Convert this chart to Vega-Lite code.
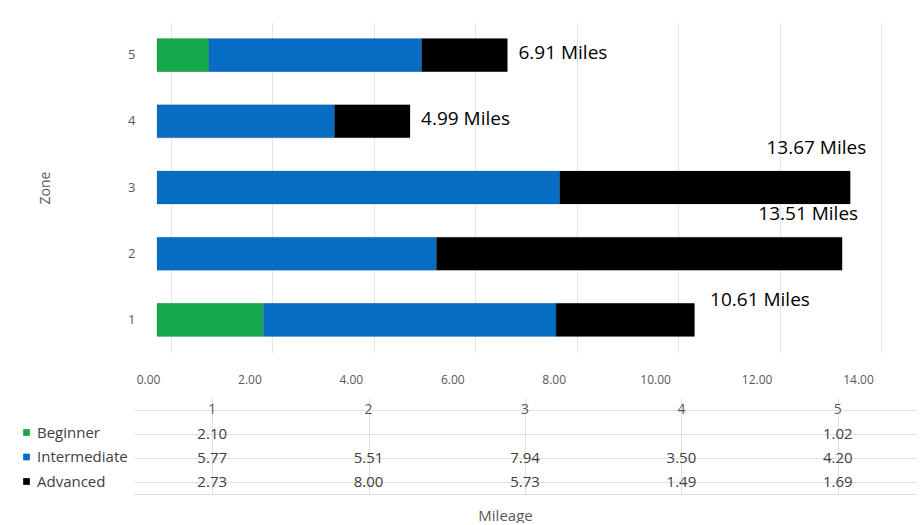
{
  "$schema": "https://vega.github.io/schema/vega-lite/v6.json",
  "padding": {"left": 19, "top": 22, "right": 5, "bottom": 0},
  "background": "white",
  "config": {
    "font": "Open Sans",
    "view": {"stroke": null},
    "axis": {"labelFont": "Open Sans", "titleFont": "Open Sans", "titleFontWeight": "normal"}
  },
  "datasets": {
    "miles": [
      {"zone": 1, "series": "Beginner", "level": 1, "value": 2.10},
      {"zone": 1, "series": "Intermediate", "level": 2, "value": 5.77},
      {"zone": 1, "series": "Advanced", "level": 3, "value": 2.73},
      {"zone": 2, "series": "Intermediate", "level": 2, "value": 5.51},
      {"zone": 2, "series": "Advanced", "level": 3, "value": 8.00},
      {"zone": 3, "series": "Intermediate", "level": 2, "value": 7.94},
      {"zone": 3, "series": "Advanced", "level": 3, "value": 5.73},
      {"zone": 4, "series": "Intermediate", "level": 2, "value": 3.50},
      {"zone": 4, "series": "Advanced", "level": 3, "value": 1.49},
      {"zone": 5, "series": "Beginner", "level": 1, "value": 1.02},
      {"zone": 5, "series": "Intermediate", "level": 2, "value": 4.20},
      {"zone": 5, "series": "Advanced", "level": 3, "value": 1.69}
    ],
    "totals": [
      {"zone": 1, "total": 10.61, "label": "10.61 Miles"},
      {"zone": 2, "total": 13.51, "label": "13.51 Miles"},
      {"zone": 3, "total": 13.67, "label": "13.67 Miles"},
      {"zone": 4, "total": 4.99, "label": "4.99 Miles"},
      {"zone": 5, "total": 6.91, "label": "6.91 Miles"}
    ]
  },
  "resolve": {"scale": {"x": "independent", "y": "independent", "color": "shared"}},
  "spacing": 13,
  "vconcat": [
    {
      "width": 710,
      "height": 331,
      "layer": [
        {
          "data": {"name": "miles"},
          "mark": {"type": "bar", "stroke": "#0000001f", "strokeWidth": 1},
          "encoding": {
            "y": {
              "field": "zone", "type": "ordinal", "sort": "descending",
              "scale": {"paddingInner": 0.5, "paddingOuter": 0.25},
              "axis": {"title": "Zone", "titleFontSize": 14, "titleColor": "#595959", "titlePadding": 75,
                       "labelFontSize": 13, "labelColor": "#595959", "labelPadding": 22,
                       "ticks": false, "domain": false, "labelAngle": 0}
            },
            "x": {
              "field": "value", "type": "quantitative", "stack": "zero",
              "scale": {"domain": [0, 14], "nice": false},
              "axis": {"title": null, "values": [0, 2, 4, 6, 8, 10, 12, 14], "format": ".2f",
                       "labelFontSize": 12, "labelColor": "#595959", "labelPadding": 21,
                       "ticks": false, "domain": false, "grid": true, "gridColor": "#e6e6e6",
                       "tickOffset": 14, "labelOffset": -23, "labelFlush": false}
            },
            "color": {
              "field": "series", "type": "nominal",
              "scale": {"domain": ["Beginner", "Intermediate", "Advanced"], "range": ["#17a84b", "#076cc4", "#000000"]},
              "legend": {"orient": "none", "legendX": -138, "legendY": 403, "title": null,
                         "symbolType": "square", "symbolSize": 45, "symbolStrokeWidth": 0,
                         "labelFontSize": 15, "labelColor": "#404040", "labelFont": "Open Sans",
                         "rowPadding": 8.5, "labelOffset": 3}
            },
            "order": {"field": "level", "type": "quantitative"}
          }
        },
        {
          "data": {"name": "totals"},
          "transform": [{"filter": "datum.total < 12 && datum.zone != 1"}],
          "mark": {"type": "text", "align": "left", "baseline": "middle", "dx": 11, "dy": -2, "fontSize": 19, "color": "#000000"},
          "encoding": {
            "y": {"field": "zone", "type": "ordinal", "sort": "descending"},
            "x": {"field": "total", "type": "quantitative"},
            "text": {"field": "label"}
          }
        },
        {
          "data": {"name": "totals"},
          "transform": [{"filter": "datum.zone == 1"}],
          "mark": {"type": "text", "align": "left", "baseline": "middle", "dx": 15, "dy": -20, "fontSize": 19, "color": "#000000"},
          "encoding": {
            "y": {"field": "zone", "type": "ordinal", "sort": "descending"},
            "x": {"field": "total", "type": "quantitative"},
            "text": {"field": "label"}
          }
        },
        {
          "data": {"name": "totals"},
          "transform": [{"filter": "datum.total >= 12"}],
          "mark": {"type": "text", "align": "right", "baseline": "middle", "dx": 16, "dy": -40, "fontSize": 19, "color": "#000000"},
          "encoding": {
            "y": {"field": "zone", "type": "ordinal", "sort": "descending"},
            "x": {"field": "total", "type": "quantitative"},
            "text": {"field": "label"}
          }
        }
      ]
    },
    {
      "width": 759,
      "height": 96,
      "layer": [
        {
          "data": {"name": "miles"},
          "mark": {"type": "text", "fontSize": 15, "color": "#404040", "baseline": "middle"},
          "encoding": {
            "x": {"field": "zone", "type": "ordinal",
                  "scale": {"domain": [1, 2, 3, 4, 5], "range": [-23, 759]},
                  "axis": {"title": "Mileage", "titleFontSize": 15, "titleColor": "#595959", "titlePadding": 14, "titleX": 348,
                           "labels": false, "ticks": false, "domain": true, "domainColor": "#dcdcdc",
                           "grid": true, "gridColor": "#e0e0e0", "bandPosition": 0}},
            "y": {"field": "series", "type": "nominal",
                  "scale": {"domain": ["hdr", "Beginner", "Intermediate", "Advanced"]},
                  "axis": {"title": null, "labels": false, "ticks": false, "domain": false,
                           "grid": true, "gridColor": "#e0e0e0", "bandPosition": 0}},
            "text": {"field": "value", "type": "quantitative", "format": ".2f"}
          }
        },
        {
          "data": {"name": "totals"},
          "mark": {"type": "text", "fontSize": 14, "color": "#595959", "baseline": "middle"},
          "encoding": {
            "x": {"field": "zone", "type": "ordinal"},
            "y": {"datum": "hdr", "type": "nominal"},
            "text": {"field": "zone", "type": "ordinal"}
          }
        }
      ]
    }
  ]
}
